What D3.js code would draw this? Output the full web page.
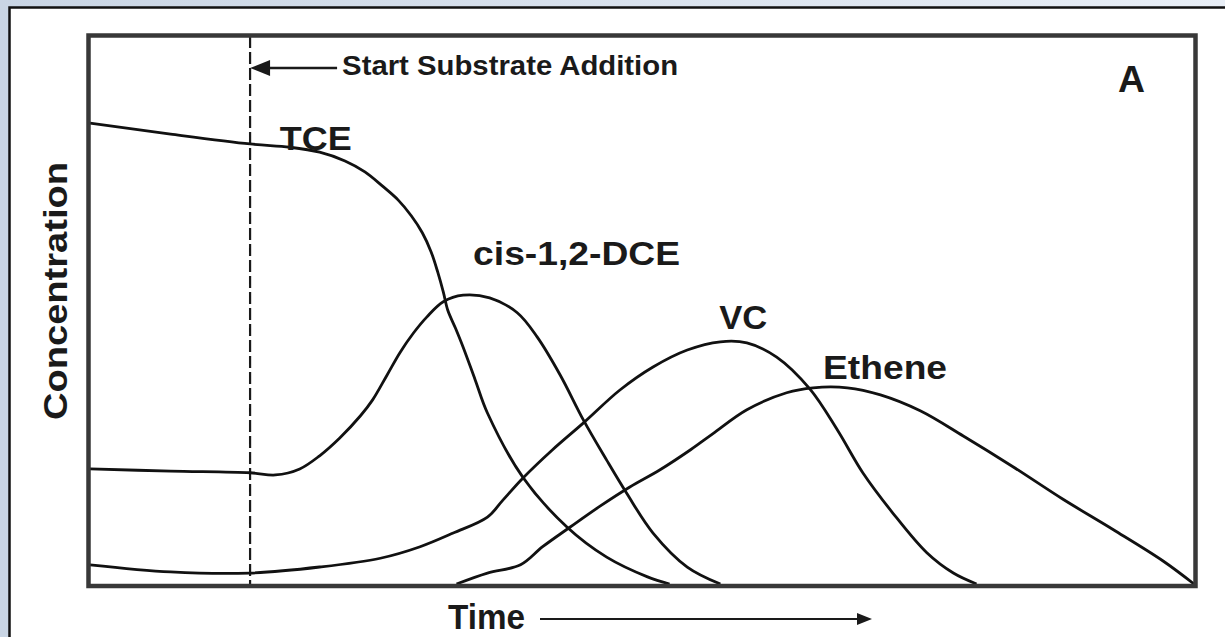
<!DOCTYPE html>
<html>
<head>
<meta charset="utf-8">
<script src="https://cdn.jsdelivr.net/npm/d3@7"></script>
<style>
  body { margin: 0; background: #fff; }
  text { font-family: "Liberation Sans", Arial, Helvetica, sans-serif; font-weight: bold; fill: #1a1a1a; }
</style>
</head>
<body>
<div id="chart"></div>
<script>
// values: [time, concentration], both in arbitrary units (0-100)
const tce = [[0,84.1],[7.3,82.1],[14.5,80.3],[18.1,79.7],[20.8,78.8],[23.1,77.2],[24.9,75.2],[26.5,72.6],
  [27.9,70.1],[29.1,67.2],[30.1,64.1],[30.9,60.6],[31.5,56.9],[32,53.3],[32.4,50.0],[33.1,46.7],[33.8,43.2],
  [34.9,37.2],[36,31.2],[39.2,19.5],[43.2,10.4],[46.8,4.9],[50.5,1.3],[52.5,0]];
const dce = [[0,21.0],[7.3,20.6],[14.5,20.3],[16.8,19.9],[19,21.0],[20.8,23.4],[22.6,26.6],[24.5,30.7],
  [25.6,33.6],[26.9,38.1],[28.1,42.3],[29.3,45.8],[30.5,48.7],[32,51.5],[33.8,52.7],[36.2,52.2],[38.7,49.5],
  [40.5,45.1],[42.6,38.1],[44.7,29.9],[46.8,22.6],[48.6,16.6],[51,9.3],[54.1,3.1],[57.1,0]];
const vc = [[0,3.5],[7.3,2.2],[14.5,2.0],[20.8,3.1],[26.3,4.7],[29.9,6.8],[32.9,9.3],[36,12.2],[37.4,15.3],
  [39.2,19.3],[41.9,24.5],[44.7,29.4],[48,35.4],[51,39.6],[54.1,42.7],[57.1,44.2],[59.5,44.0],[62.2,41.4],
  [65.2,35.6],[67.7,28.1],[70,20.3],[72.7,13.0],[75.8,5.7],[78.2,2.0],[80.3,0]];
const ethene = [[33.2,0],[36,2.0],[39,3.5],[41,6.8],[43.5,10.4],[46.2,14.2],[48.9,17.7],[51.6,20.8],
  [54.4,24.5],[56.4,27.4],[59.5,31.8],[63.1,34.9],[65.5,35.8],[68.6,35.8],[71.6,34.5],[75.2,31.6],
  [79.1,27.0],[83.6,21.4],[88.1,15.5],[92.7,9.9],[97.2,4.2],[100,0]];

const seriesNames = ["TCE", "cis-1,2-DCE", "VC", "Ethene"];
const seriesData = [tce, dce, vc, ethene];
// label anchor (time, concentration) and width of the stretched lettering
const labelPos = [[17.2, 79.2], [34.7, 58.2], [57, 46.6], [66.4, 37.4]];
const labelLen = [72, 207, 48, 124];

const substrateStart = 14.5;

const W = 1225, H = 637;

const svg = d3.select('#chart').append('svg')
  .attr('width', W)
  .attr('height', H);

// light blue page background behind the white panel
const grad = svg.append('defs').append('linearGradient')
  .attr('id', 'bg').attr('x1', 0).attr('x2', 1).attr('y1', 0).attr('y2', 0);
grad.append('stop').attr('offset', '0%').attr('stop-color', '#c9d5e4');
grad.append('stop').attr('offset', '100%').attr('stop-color', '#e8eef6');

svg.append('rect').attr('width', W).attr('height', H).attr('fill', 'url(#bg)');
svg.append('rect')
  .attr('x', 9.5).attr('y', 7.5)
  .attr('width', W + 20).attr('height', H + 20)
  .attr('fill', '#fff')
  .attr('stroke', '#111')
  .attr('stroke-width', 2.5);

const x = d3.scaleLinear().domain([0, 100]).range([90, 1194]);
const y = d3.scaleLinear().domain([0, 100]).range([584, 36]);

// dashed marker where substrate addition starts
svg.append('line')
  .attr('x1', x(substrateStart)).attr('x2', x(substrateStart))
  .attr('y1', y(100)).attr('y2', y(0))
  .attr('stroke', '#1a1a1a')
  .attr('stroke-width', 2.2)
  .attr('stroke-dasharray', '12,4');

const line = d3.line()
  .x(d => x(d[0]))
  .y(d => y(d[1]))
  .curve(d3.curveCatmullRom.alpha(0.5));

svg.append('g')
  .selectAll('path')
  .data(seriesData)
  .join('path')
    .attr('d', line)
    .attr('fill', 'none')
    .attr('stroke', '#111')
    .attr('stroke-width', 2.8)
    .attr('stroke-linejoin', 'round');

svg.append('g')
  .selectAll('text')
  .data(seriesNames)
  .join('text')
    .attr('x', (d, i) => x(labelPos[i][0]))
    .attr('y', (d, i) => y(labelPos[i][1]))
    .attr('font-size', 34)
    .attr('textLength', (d, i) => labelLen[i])
    .attr('lengthAdjust', 'spacingAndGlyphs')
    .text(d => d);

// plot frame
svg.append('rect')
  .attr('x', x(0) - 1.5).attr('y', y(100) - 0.5)
  .attr('width', x(100) - x(0) + 3)
  .attr('height', y(0) - y(100) + 2.5)
  .attr('fill', 'none')
  .attr('stroke', '#383838')
  .attr('stroke-width', 4.5);

// "Start Substrate Addition" arrow
const ax = x(substrateStart), ay = 68;
svg.append('line')
  .attr('x1', ax + 14).attr('x2', ax + 87)
  .attr('y1', ay).attr('y2', ay)
  .attr('stroke', '#1a1a1a').attr('stroke-width', 2.5);
svg.append('path')
  .attr('d', `M${ax},${ay} L${ax + 20},${ay - 8} L${ax + 20},${ay + 8} Z`)
  .attr('fill', '#1a1a1a');
svg.append('text')
  .attr('x', ax + 92).attr('y', 75)
  .attr('font-size', 27)
  .attr('textLength', 336)
  .attr('lengthAdjust', 'spacingAndGlyphs')
  .text('Start Substrate Addition');

svg.append('text')
  .attr('x', 1118).attr('y', 92)
  .attr('font-size', 37)
  .attr('textLength', 27)
  .attr('lengthAdjust', 'spacingAndGlyphs')
  .text('A');

// axis titles
svg.append('text')
  .attr('x', 448).attr('y', 629)
  .attr('font-size', 35)
  .attr('textLength', 77)
  .attr('lengthAdjust', 'spacingAndGlyphs')
  .text('Time');

svg.append('line')
  .attr('x1', 540).attr('x2', 860)
  .attr('y1', 619).attr('y2', 619)
  .attr('stroke', '#1a1a1a').attr('stroke-width', 2);
svg.append('path')
  .attr('d', 'M872,619 L857,613 L857,625 Z')
  .attr('fill', '#1a1a1a');

svg.append('text')
  .attr('transform', 'translate(67,291) rotate(-90)')
  .attr('text-anchor', 'middle')
  .attr('font-size', 33)
  .attr('textLength', 258)
  .attr('lengthAdjust', 'spacingAndGlyphs')
  .text('Concentration');
</script>
</body>
</html>
